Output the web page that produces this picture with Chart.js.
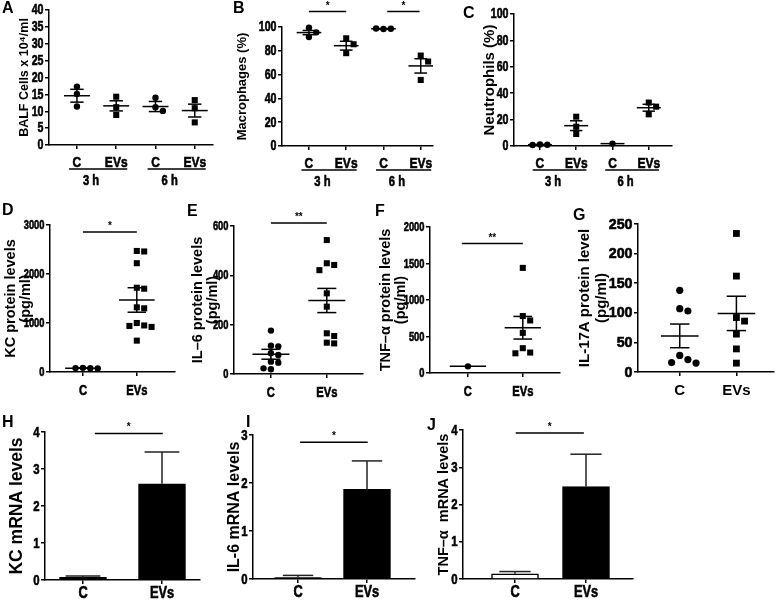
<!DOCTYPE html>
<html>
<head>
<meta charset="utf-8">
<script src="https://cdn.jsdelivr.net/npm/chart.js@4.4.1/dist/chart.umd.min.js"></script>
<style>
  html, body { margin: 0; padding: 0; background: #fff; }
  #fig { position: relative; width: 777px; height: 602px; overflow: hidden; background: #fff; }
  #fig canvas { position: absolute; }
</style>
</head>
<body>
<div id="fig"><canvas id="letters" width="777" height="602" style="left:0;top:0"></canvas></div>
<script>
// --- dados ---
const timeCats = ['C', 'EVs', 'C', 'EVs'];
const timeGroups = ['3 h', '6 h'];
const twoCats = ['C', 'EVs'];

const balfPts = [[17.3, 15.1, 11.4], [14.3, 11.2, 8.9], [14.0, 11.2, 10.1], [13.3, 10.9, 6.7]];
const balfMean = [14.6, 11.6, 11.4, 10.2];
const balfSem = [1.9, 1.5, 1.5, 1.9];

const macroPts = [[99.4, 95.5, 91.6], [90.5, 85.5, 78.0], [98.3, 98.5, 98.7], [76.0, 71.0, 55.5]];
const macroMean = [95.3, 84.3, 98.5, 67.3];
const macroSem = [1.8, 3.7, 0.2, 6.0];

const neutroPts = [[1.2, 1.0, 0.8], [22.2, 14.6, 9.1], [1.8], [32.9, 29.8, 24.0]];
const neutroMean = [1.0, 15.4, 1.8, 29.0];
const neutroSem = [0.2, 3.7, 0, 2.6];

const kcPts = [[85, 78, 80, 72], [2470, 2460, 2220, 1720, 1700, 1320, 1300, 1000, 950, 940, 920, 640]];
const kcMean = [79, 1470];
const kcSem = [3, 250];

const il6Pts = [[176, 115, 112, 84, 77, 50, 46, 23, 19], [543, 449, 442, 421, 327, 273, 165, 154, 127, 124]];
const il6Mean = [80, 298];
const il6Sem = [20, 49];

const tnfPts = [[91], [1440, 780, 720, 550, 340, 280, 270]];
const tnfMean = [91, 620];
const tnfSem = [0, 155];

const il17Pts = [[138, 107, 103, 28, 21, 16, 15], [234, 162, 92, 86, 64, 39, 15]];
const il17Mean = [61, 99];
const il17Sem = [20, 29];

const kcMrna = [0.07, 2.6];
const kcMrnaSem = [0.04, 0.86];
const il6Mrna = [0.03, 1.87];
const il6MrnaSem = [0.045, 0.59];
const tnfMrna = [0.14, 2.48];
const tnfMrnaSem = [0.06, 0.87];

const SANS = "'Liberation Sans', Arial, Helvetica, sans-serif";
const fig = document.getElementById('fig');

// espalha pontos que se sobrepõem (tipo beeswarm)
function swarm(vals, pxX, pxY, d) {
    const placed = [];
    return vals.map(v => {
        const y = v * pxY;
        let off = 0;
        for (let n = 0; n < 20; n++) {
            off = n === 0 ? 0 : (n % 2 ? 1 : -1) * Math.ceil(n / 2) * d;
            if (placed.every(p => Math.hypot(p[0] - off, p[1] - y) >= d * 0.95)) break;
        }
        placed.push([off, y]);
        return off / pxX;
    });
}

// texto "estreito" (imita Arial Narrow Bold)
function condText(ctx, text, x, y, align, cond) {
    ctx.save();
    ctx.translate(x, y);
    ctx.scale(cond, 1);
    ctx.textAlign = align;
    ctx.lineWidth = 0.6;
    ctx.strokeStyle = '#000';
    ctx.fillText(text, 0, 0);
    if (cond < 1) ctx.strokeText(text, 0, 0);
    ctx.restore();
}

function decorPlugin(p, sp, tl) {
    return {
        id: 'decor',
        afterDatasetsDraw(chart) {
            const ctx = chart.ctx, xs = chart.scales.x, ys = chart.scales.y;
            const line = (x1, y1, x2, y2) => { ctx.beginPath(); ctx.moveTo(x1, y1); ctx.lineTo(x2, y2); ctx.stroke(); };
            const yb = ys.getPixelForValue(0);
            ctx.save();
            ctx.strokeStyle = '#000';
            ctx.fillStyle = '#000';
            ctx.lineWidth = 1.5;
            // média ± EPM
            if (p.mean) p.mean.forEach((m, i) => {
                const cx = xs.getPixelForValue(i + 1), ym = ys.getPixelForValue(m);
                line(cx - sp * 0.33, ym, cx + sp * 0.33, ym);
                if (p.sem[i] > 0) {
                    const yh = ys.getPixelForValue(m + p.sem[i]), yl = ys.getPixelForValue(m - p.sem[i]);
                    line(cx, yh, cx, yl);
                    line(cx - sp * 0.17, yh, cx + sp * 0.17, yh);
                    line(cx - sp * 0.17, yl, cx + sp * 0.17, yl);
                }
            });
            // barras de erro (só para cima)
            if (p.bars) p.bars.forEach((v, i) => {
                const cx = xs.getPixelForValue(i + 1);
                const yt = ys.getPixelForValue(v), ye = ys.getPixelForValue(v + p.err[i]);
                ctx.strokeStyle = '#222';
                line(cx, yt, cx, ye);
                line(cx - sp * 0.22, ye, cx + sp * 0.22, ye);
            });
            ctx.strokeStyle = '#000';
            ctx.lineWidth = 1.5;
            // rótulos dos eixos
            ctx.textBaseline = 'middle';
            ctx.font = 'bold ' + p.ySize + 'px ' + SANS;
            ys.ticks.forEach(t => condText(ctx, String(t.value), ys.right - tl - 1.5, ys.getPixelForValue(t.value) + 0.5, 'right', p.yCond));
            ctx.font = 'bold ' + p.xSize + 'px ' + SANS;
            xs.ticks.forEach((t, i) => condText(ctx, p.cats[i], xs.getPixelForValue(t.value), yb + p.xOff, 'center', p.xCond));
            // significância
            (p.sig || []).forEach(s => {
                const y = ys.getPixelForValue(s.y);
                const a = xs.getPixelForValue(s.from), b = xs.getPixelForValue(s.to);
                ctx.lineWidth = 1.5;
                line(a, y, b, y);
                ctx.font = 'bold 10px ' + SANS;
                ctx.textAlign = 'center';
                ctx.textBaseline = 'alphabetic';
                ctx.fillText(s.text, (a + b) / 2, y - 3);
            });
            // grupos 3 h / 6 h
            if (p.groups) {
                p.groups.forEach((g, gi) => {
                    const c1 = xs.getPixelForValue(gi * 2 + 1), c2 = xs.getPixelForValue(gi * 2 + 2);
                    ctx.lineWidth = 1.5;
                    line(c1 - 0.2 * sp, yb + 24, c2 + 0.28 * sp, yb + 24);
                    ctx.font = 'bold 14px ' + SANS;
                    ctx.textBaseline = 'middle';
                    condText(ctx, g, c1 + 0.36 * sp, yb + 36, 'center', 0.8);
                });
            }
            ctx.restore();
        }
    };
}

function makePanel(p) {
    const lhPx = p.titleSize * (p.titleLH || 1.2);
    const padL = 2, padR = 4, padTop = 30;
    const left = Math.round(p.titleX - lhPx / 2 - padL);
    const yW = p.x0 - left - padL;
    const top = p.yT - padTop;
    const width = Math.round(padL + yW + (p.x1 - p.x0) + padR);
    const height = padTop + (p.yB - p.yT) + p.xH;

    const cv = document.createElement('canvas');
    cv.width = width; cv.height = height;
    cv.style.width = width + 'px'; cv.style.height = height + 'px';
    cv.style.left = left + 'px'; cv.style.top = top + 'px';
    fig.appendChild(cv);

    const n = p.cats.length;
    const sp = (p.cN - p.c1) / (n - 1);
    const xmin = 1 - (p.c1 - p.x0) / sp, xmax = n + (p.x1 - p.cN) / sp;
    const pxY = (p.yB - p.yT) / p.ymax;

    let datasets;
    if (p.pts) {
        const d = p.r * 2 + 1;
        datasets = p.pts.map((vals, i) => {
            const offs = swarm(vals, sp, pxY, d);
            const isC = p.cats[i] === 'C';
            return {
                data: vals.map((v, j) => ({ x: i + 1 + offs[j], y: v })),
                pointStyle: isC ? 'circle' : 'rect',
                pointRadius: isC ? p.r : p.r * 1.34,
                backgroundColor: '#000',
                borderWidth: 0,
                clip: false
            };
        });
    } else {
        datasets = [{
            data: p.bars.map((v, i) => ({ x: i + 1, y: v })),
            backgroundColor: p.fills,
            borderColor: '#000',
            borderWidth: 1.5,
            barThickness: p.barW,
            clip: false
        }];
    }

    const tl = 4;
    const axisGrid = { display: true, drawOnChartArea: false, drawTicks: true, tickLength: tl, color: '#000', lineWidth: 1.5, offset: false };

    new Chart(cv, {
        type: p.pts ? 'scatter' : 'bar',
        data: { datasets },
        options: {
            responsive: false,
            animation: false,
            events: [],
            layout: { padding: { top: padTop, left: padL, right: padR, bottom: 0 } },
            plugins: { legend: { display: false }, tooltip: { enabled: false } },
            scales: {
                x: {
                    type: 'linear',
                    min: xmin, max: xmax,
                    offset: false,
                    afterBuildTicks: s => { s.ticks = p.cats.map((c, i) => ({ value: i + 1 })); },
                    afterFit: s => { s.height = p.xH; },
                    ticks: { display: false },
                    grid: axisGrid,
                    border: { color: '#000', width: 1.5 }
                },
                y: {
                    min: 0, max: p.ymax,
                    afterFit: s => { s.width = yW; },
                    ticks: { display: false, stepSize: p.step },
                    grid: axisGrid,
                    border: { color: '#000', width: 1.5 },
                    title: {
                        display: true, text: p.title, color: '#000', padding: 0,
                        font: { family: SANS, size: p.titleSize, weight: 'bold', lineHeight: p.titleLH || 1.2 }
                    }
                }
            }
        },
        plugins: [decorPlugin(p, sp, tl)]
    });
}

// --- linha de cima ---
const topRow = { cats: timeCats, groups: timeGroups, xH: 48, xOff: 18, xSize: 15, xCond: 0.8, ySize: 14, yCond: 0.76, titleSize: 12.5, r: 3.2 };
makePanel({ ...topRow, pts: balfPts, mean: balfMean, sem: balfSem, ymax: 40, step: 5,
    title: 'BALF Cells x 10\u2074/ml', titleX: 24, x0: 49, x1: 213, yT: 10, yB: 145, c1: 77, cN: 195 });
makePanel({ ...topRow, pts: macroPts, mean: macroMean, sem: macroSem, ymax: 100, step: 20,
    title: 'Macrophages (%)', titleX: 243, titleSize: 13, x0: 282, x1: 433, yT: 27, yB: 146, c1: 309, cN: 421,
    sig: [{ y: 113, from: 1, to: 2, text: '*' }, { y: 113, from: 3.1, to: 3.97, text: '*' }] });
makePanel({ ...topRow, pts: neutroPts, mean: neutroMean, sem: neutroSem, ymax: 100, step: 20,
    title: 'Neutrophils (%)', titleX: 490, titleSize: 15, x0: 514, x1: 672, yT: 14, yB: 146, c1: 540, cN: 649 });

// --- linha do meio ---
const midRow = { cats: twoCats, xH: 32, xOff: 19, xSize: 14, xCond: 0.8, ySize: 13, yCond: 0.72, titleSize: 14.5, titleLH: 1.03, r: 3.2 };
makePanel({ ...midRow, pts: kcPts, mean: kcMean, sem: kcSem, ymax: 3000, step: 1000,
    title: ['KC protein levels', '(pg/ml)'], titleX: 11, x0: 50, x1: 175, yT: 225, yB: 372, c1: 83, cN: 137,
    sig: [{ y: 2857, from: 1, to: 2, text: '*' }] });
makePanel({ ...midRow, pts: il6Pts, mean: il6Mean, sem: il6Sem, ymax: 600, step: 200,
    title: ['IL\u20136 protein levels', '(pg/ml)'], titleX: 198, x0: 234, x1: 363, yT: 226, yB: 374, c1: 271, cN: 327,
    sig: [{ y: 612, from: 1, to: 2, text: '**' }] });
makePanel({ ...midRow, pts: tnfPts, mean: tnfMean, sem: tnfSem, ymax: 2000, step: 500,
    title: ['TNF\u2013\u03b1 protein levels', '(pg/ml)'], titleX: 386, x0: 430, x1: 560, yT: 227, yB: 373, c1: 468, cN: 523,
    sig: [{ y: 1773, from: 0.89, to: 2, text: '**' }] });
makePanel({ ...midRow, pts: il17Pts, mean: il17Mean, sem: il17Sem, ymax: 250, step: 50, xSize: 15, xCond: 1, ySize: 15, yCond: 0.95, r: 3.6,
    title: ['IL-17A protein level', '(pg/ml)'], titleX: 585, titleSize: 15, titleLH: 1.1, x0: 638, x1: 775, yT: 224, yB: 372, c1: 680, cN: 737 });

// --- linha de baixo ---
const botRow = { cats: twoCats, xH: 26, xOff: 14, xSize: 16, xCond: 0.8, ySize: 15, yCond: 0.76, titleSize: 16, barW: 47 };
makePanel({ ...botRow, bars: kcMrna, err: kcMrnaSem, fills: ['#000', '#000'], ymax: 4, step: 1,
    title: 'KC mRNA levels', titleX: 17, titleSize: 17.5, x0: 45, x1: 200, yT: 432, yB: 580, c1: 83, cN: 162,
    sig: [{ y: 3.96, from: 1.15, to: 2.01, text: '*' }] });
makePanel({ ...botRow, bars: il6Mrna, err: il6MrnaSem, fills: ['#000', '#000'], ymax: 3, step: 1,
    title: 'IL-6 mRNA levels', titleX: 235, x0: 253, x1: 415, yT: 435, yB: 579, c1: 298, cN: 367,
    sig: [{ y: 2.85, from: 1.03, to: 2.01, text: '*' }] });
makePanel({ ...botRow, bars: tnfMrna, err: tnfMrnaSem, fills: ['#fff', '#000'], ymax: 4, step: 1,
    title: 'TNF\u2013\u03b1  mRNA levels', titleX: 444, titleSize: 14.5, x0: 463, x1: 633, yT: 430, yB: 579, c1: 515, cN: 586,
    sig: [{ y: 3.92, from: 1.01, to: 1.97, text: '*' }] });

// letras dos painéis
const lctx = document.getElementById('letters').getContext('2d');
lctx.fillStyle = '#000';
lctx.font = 'bold 16px ' + SANS;
[['A', 2, 13], ['B', 233, 13], ['C', 463, 18], ['D', 2, 215], ['E', 187, 216], ['F', 375, 216],
 ['G', 573, 220], ['H', 2, 427], ['I', 246, 427], ['J', 427, 430]].forEach(([t, x, y]) => lctx.fillText(t, x, y));
</script>
</body>
</html>
